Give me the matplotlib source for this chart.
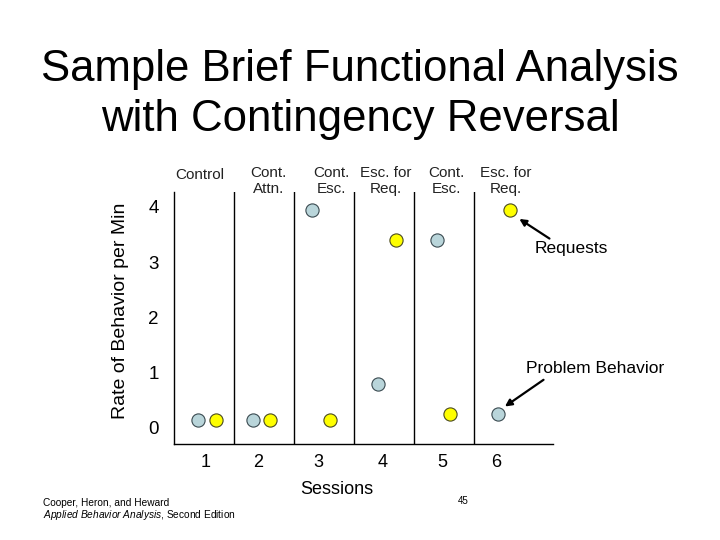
import matplotlib
matplotlib.use("Agg")
import matplotlib.pyplot as plt

plt.rcParams['font.family'] = ['Liberation Sans', 'DejaVu Sans']
plt.rcParams['mathtext.fontset'] = 'custom'
plt.rcParams['mathtext.rm'] = 'Liberation Sans'
plt.rcParams['mathtext.it'] = 'Liberation Sans:italic'

# phases of the brief functional analysis
phase_labels = ["Control", "Cont.\nAttn.", "Cont.\nEsc.", "Esc. for\nReq.", "Cont.\nEsc.", "Esc. for\nReq."]
phase_label_x = [0.43, 1.57, 2.63, 3.53, 4.55, 5.53]

# sessions (x tick labels)
session_labels = ["1", "2", "3", "4", "5", "6"]
session_tick_x = [0.52, 1.40, 2.40, 3.48, 4.48, 5.38]

# problem behavior (blue) and requests (yellow), rate per min
pb_x = [0.40, 1.32, 2.30, 3.40, 4.38, 5.40]
pb_y = [0.15, 0.15, 3.94, 0.80, 3.40, 0.25]
req_x = [0.70, 1.60, 2.60, 3.70, 4.60, 5.60]
req_y = [0.15, 0.15, 0.15, 3.40, 0.25, 3.94]

fig = plt.figure(figsize=(7.2, 5.4), dpi=100)
ax = fig.add_axes([174/720, 1-444/540, 379/720, 252/540])

ax.set_xlim(0, 6.32)
ax.set_ylim(-0.29, 4.27)

for s in ['top', 'right']:
    ax.spines[s].set_visible(False)
for s in ['left', 'bottom']:
    ax.spines[s].set_linewidth(1.0)
    ax.spines[s].set_color('black')

# phase change lines
for b in range(1, 6):
    ax.axvline(b, color='black', lw=1.0)

ax.plot(pb_x, pb_y, 'o', ms=9.5, mfc='#b9d5da', mec='#3a4a50', mew=0.8, ls='none', clip_on=False)
ax.plot(req_x, req_y, 'o', ms=9.5, mfc='#ffff00', mec='#4a4a20', mew=0.8, ls='none', clip_on=False)

ax.set_yticks([0, 1, 2, 3, 4])
ax.set_yticklabels(["0", "1", "2", "3", "4"], fontsize=13.5)
ax.tick_params(axis='y', length=0, pad=11)
ax.set_xticks(session_tick_x)
ax.set_xticklabels(session_labels, fontsize=13)
ax.tick_params(axis='x', length=0, pad=7)

ax.set_ylabel("Rate of Behavior per Min", fontsize=14)
ax.yaxis.set_label_coords(-0.12, 0.53)
ax.set_xlabel("Sessions", fontsize=13)
ax.xaxis.set_label_coords(0.43, -0.145)

for lab, x in zip(phase_labels, phase_label_x):
    yy = 4.57 if lab == "Control" else 4.47
    ax.text(x, yy, lab, ha='center', va='center', fontsize=11, color='#222222',
            linespacing=1.25, clip_on=False)

# annotations
ax.annotate('', xy=(5.72, 3.81), xytext=(6.30, 3.40),
            arrowprops=dict(arrowstyle='-|>', color='black', lw=1.6, mutation_scale=10),
            annotation_clip=False)
ax.text(6.63, 3.25, "Requests", ha='center', va='center', fontsize=12.5, clip_on=False)
ax.annotate('', xy=(5.48, 0.36), xytext=(6.20, 0.90),
            arrowprops=dict(arrowstyle='-|>', color='black', lw=1.6, mutation_scale=10),
            annotation_clip=False)
ax.text(7.02, 1.08, "Problem Behavior", ha='center', va='center', fontsize=12.5, clip_on=False)

# title
fig.text(0.5, 1-70/540, "Sample Brief Functional Analysis", ha='center', va='center', fontsize=31.5)
fig.text(0.5, 1-120/540, "with Contingency Reversal", ha='center', va='center', fontsize=31.5)

# footer
fig.text(43/720, 1-503/540, "Cooper, Heron, and Heward", ha='left', va='center', fontsize=7.3)
fig.text(43/720, 1-515/540, r"$\it{Applied\ Behavior\ Analysis}$, Second Edition",
         ha='left', va='center', fontsize=7.3)
fig.text(463/720, 1-501/540, "45", ha='center', va='center', fontsize=7)

fig.savefig("out.png", dpi=100)
